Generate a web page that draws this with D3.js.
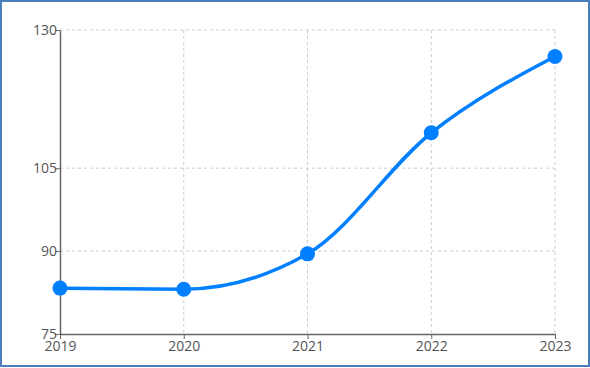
<!DOCTYPE html>
<html>
<head>
<meta charset="utf-8">
<script src="https://cdn.jsdelivr.net/npm/d3@7"></script>
<style>
  html, body { margin: 0; padding: 0; background: #fff; }
  svg { display: block; }
  .tick text { font-family: "Open Sans", "Noto Sans", sans-serif; font-size: 14px; fill: #555; }
</style>
</head>
<body>
<div id="app"></div>
<script>
const years = ["2019", "2020", "2021", "2022", "2023"];
const values = [83.3, 83.1, 89.5, 111.4, 125.2];
const yTicks = [75, 90, 105, 130];

const width = 590;
const height = 368;
const margin = { left: 60, right: 35, top: 30, bottom: 34 };

const svg = d3.select('#app')
  .append('svg')
  .attr('width', width)
  .attr('height', height);

// frame
svg.append('rect')
  .attr('x', 1).attr('y', 1)
  .attr('width', width - 2).attr('height', height - 3)
  .attr('fill', '#fff')
  .attr('stroke', '#4a7ebb')
  .attr('stroke-width', 2);

const x = d3.scalePoint()
  .domain(years)
  .range([margin.left, width - margin.right]);

const y = d3.scaleLinear()
  .domain([75, 130])
  .range([height - margin.bottom, margin.top]);

// grid
const grid = svg.append('g').attr('class', 'grid');
grid.selectAll('line.h')
  .data(yTicks.slice(1))
  .enter()
  .append('line')
  .attr('x1', margin.left).attr('x2', width - margin.right)
  .attr('y1', d => y(d)).attr('y2', d => y(d))
  .attr('stroke', '#ccc').attr('stroke-dasharray', '3,3');
grid.selectAll('line.v')
  .data(years.slice(1))
  .enter()
  .append('line')
  .attr('x1', d => x(d)).attr('x2', d => x(d))
  .attr('y1', y(130)).attr('y2', y(75))
  .attr('stroke', '#ccc').attr('stroke-dasharray', '3,3');

// axes
const xAxis = svg.append('g')
  .attr('transform', `translate(0,${height - margin.bottom})`)
  .call(d3.axisBottom(x).tickSize(5).tickSizeOuter(0));
const yAxis = svg.append('g')
  .attr('transform', `translate(${margin.left},0)`)
  .call(d3.axisLeft(y).tickValues(yTicks).tickSize(5).tickSizeOuter(0));

[xAxis, yAxis].forEach(a => {
  a.select('.domain').attr('stroke', '#666').attr('stroke-width', 1.5);
  a.selectAll('.tick line').attr('stroke', '#666');
  a.attr('font-size', null).attr('font-family', null);
});
xAxis.selectAll('.tick text').attr('dy', '0.71em').attr('y', 7);
yAxis.selectAll('.tick text').attr('x', -3);

// line
const data = years.map((d, i) => ({ year: d, value: values[i] }));
const line = d3.line()
  .x(d => x(d.year))
  .y(d => y(d.value))
  .curve(d3.curveMonotoneX);

svg.append('path')
  .datum(data)
  .attr('d', line)
  .attr('fill', 'none')
  .attr('stroke', '#0080ff')
  .attr('stroke-width', 3.5);

svg.append('g')
  .selectAll('circle')
  .data(data)
  .enter()
  .append('circle')
  .attr('cx', d => x(d.year))
  .attr('cy', d => y(d.value))
  .attr('r', 7.5)
  .attr('fill', '#0080ff');
</script>
</body>
</html>
